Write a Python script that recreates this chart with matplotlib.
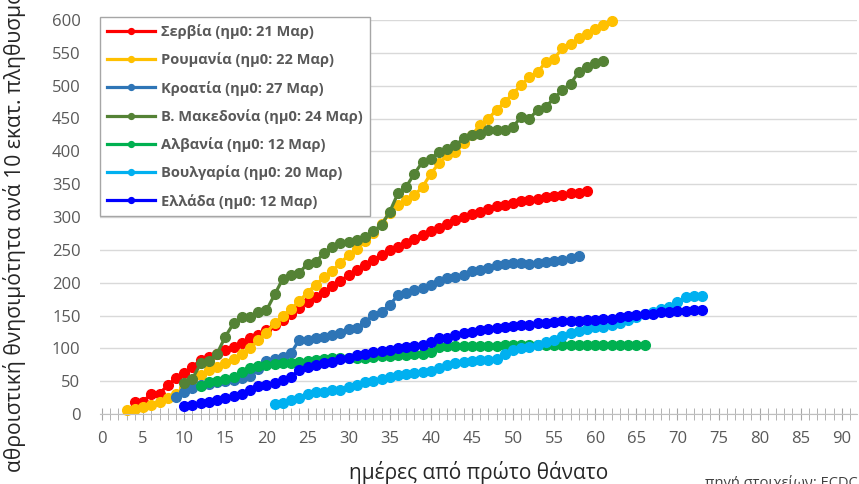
import numpy as np
import matplotlib
matplotlib.use("Agg")
import matplotlib.pyplot as plt

plt.rcParams['font.family'] = ['Open Sans', 'DejaVu Sans']

# cumulative deaths per 10M population, one value per day since first death
labels = ["Σερβία (ημ0: 21 Μαρ)", "Ρουμανία (ημ0: 22 Μαρ)", "Κροατία (ημ0: 27 Μαρ)",
          "Β. Μακεδονία (ημ0: 24 Μαρ)", "Αλβανία (ημ0: 12 Μαρ)",
          "Βουλγαρία (ημ0: 20 Μαρ)", "Ελλάδα (ημ0: 12 Μαρ)"]
colors = ['#FF0000', '#FFC000', '#2E75B6', '#548235', '#00B050', '#00B0F0', '#0000FF']
start_days = [4, 3, 9, 10, 12, 21, 10]

serbia = [19, 19, 31, 31, 44, 55, 62, 72, 82, 87, 92, 97, 102, 108, 115, 121, 128, 135, 143, 152,
          161, 170, 178, 186, 195, 203, 211, 219, 227, 235, 242, 249, 255, 261, 267, 272, 278, 284,
          290, 295, 300, 304, 308, 312, 316, 319, 322, 324, 326, 328, 330, 332, 334, 336, 337, 339]
romania = [6, 8, 11, 13, 19, 24, 30, 39, 50, 59, 67, 72, 77, 83, 92, 100, 112, 124, 138, 150,
           160, 172, 185, 197, 208, 218, 230, 242, 252, 263, 275, 290, 306, 318, 326, 333, 346,
           366, 382, 394, 399, 412, 425, 440, 450, 463, 475, 488, 501, 513, 521, 536, 541, 557,
           564, 572, 579, 587, 592, 598]
croatia = [26, 34, 39, 44, 46, 48, 50, 52, 55, 58, 68, 80, 84, 87, 93, 113, 113, 115, 117, 120,
           123, 130, 131, 140, 151, 156, 166, 181, 185, 189, 192, 197, 202, 207, 209, 212, 218,
           220, 222, 227, 229, 230, 230, 229, 230, 232, 233, 235, 238, 240]
macedonia = [47, 54, 77, 80, 92, 118, 138, 148, 148, 156, 158, 182, 206, 212, 215, 229, 232, 245,
             255, 260, 262, 265, 270, 278, 288, 308, 336, 346, 366, 384, 389, 399, 404, 409, 420,
             425, 427, 432, 432, 432, 437, 453, 450, 463, 468, 481, 493, 503, 521, 529, 534, 538]
albania = [42, 49, 51, 54, 57, 64, 70, 73, 75, 76, 77, 78, 79, 80, 82, 84, 85, 85, 85, 86,
           86, 87, 88, 89, 90, 90, 91, 92, 95, 102, 104, 104, 104, 104, 104, 104, 104, 105, 105,
           105, 105, 105, 105, 105, 105, 105, 105, 105, 105, 105, 105, 105, 105, 105, 105]
bulgaria = [15, 16, 22, 25, 30, 33, 34, 36, 37, 41, 44, 48, 51, 54, 56, 59, 61, 62, 64, 65,
            70, 74, 77, 79, 81, 82, 82, 84, 92, 97, 100, 102, 105, 109, 113, 119, 123, 127, 130,
            132, 133, 135, 138, 143, 148, 152, 156, 160, 163, 170, 178, 180, 180]
greece = [12, 14, 16, 19, 21, 24, 27, 31, 37, 42, 44, 47, 52, 57, 67, 72, 75, 77, 79, 83,
          86, 90, 92, 95, 96, 98, 100, 102, 103, 105, 110, 115, 116, 120, 124, 125, 128, 130, 131,
          133, 134, 135, 136, 138, 139, 140, 141, 142, 142, 143, 143, 144, 145, 148, 150, 151,
          152, 153, 155, 156, 157, 157, 158, 159]

series = [serbia, romania, croatia, macedonia, albania, bulgaria, greece]

fig = plt.figure(figsize=(8.59, 4.84), dpi=100)
ax = fig.add_axes([100/859, 70/484, 757/859, 394/484])

for vals, start, col, lab in zip(series, start_days, colors, labels):
    days = np.arange(start, start + len(vals))
    ax.plot(days, vals, color=col, lw=2.3, marker='o', markersize=7, label=lab, clip_on=False)

ax.set_xlim(-0.25, 91.85)
ax.set_ylim(0, 600)
ax.set_xticks(range(0, 91, 5))
ax.set_xticks(range(0, 92), minor=True)
ax.set_yticks(range(0, 601, 50))
ax.yaxis.grid(True, color='#d9d9d9', lw=1)
ax.set_axisbelow(True)
for s in ['top', 'right', 'left']:
    ax.spines[s].set_visible(False)
ax.spines['bottom'].set_color('#bfbfbf')
ax.tick_params(axis='x', which='both', direction='inout', length=9, color='#a6a6a6',
               labelsize=12, labelcolor='#595959', pad=8)
ax.tick_params(axis='y', length=0, labelsize=12, labelcolor='#595959', pad=14)

ax.set_xlabel("ημέρες από πρώτο θάνατο", fontsize=15, color='#262626', labelpad=10)
fig.text(15/859, 12/484, "αθροιστική θνησιμότητα ανά 10 εκατ. πληθυσμού", rotation=90,
         fontsize=15.2, color='#262626', ha='center', va='bottom')
fig.text(858/859, 1/484, "πηγή στοιχείων: ECDC", fontsize=10.5, color='#404040',
         ha='right', va='center')

leg = ax.legend(loc='upper left', bbox_to_anchor=(0.0, 1.008), borderaxespad=0,
                fancybox=False, edgecolor='#a6a6a6', framealpha=1, markerscale=0.6,
                prop={'weight': 'bold', 'size': 10.5}, labelcolor='#595959',
                handlelength=3.3, labelspacing=0.92, handletextpad=0.4, borderpad=0.5)
leg.get_frame().set_linewidth(1)

fig.savefig("out.png", dpi=100)
